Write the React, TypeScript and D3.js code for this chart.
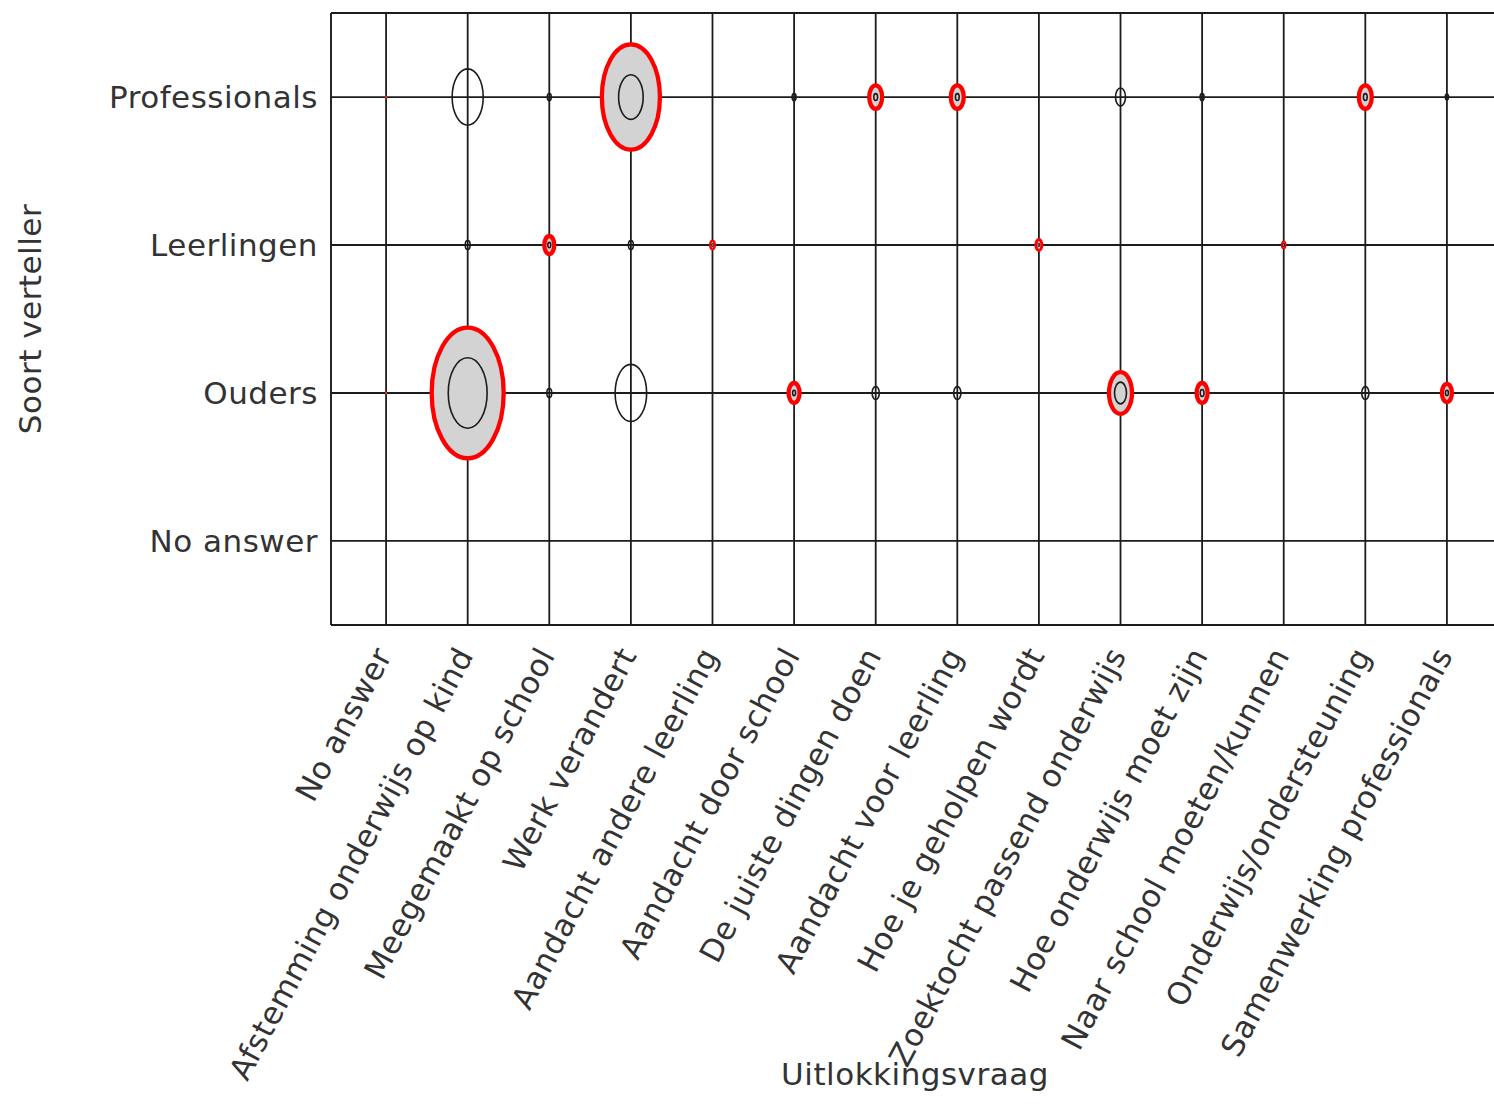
import * as d3 from "d3";
import React from "react";

// Uitlokkingsvraag (x) and Soort verteller (y)
const questions = [
  "No answer",
  "Afstemming onderwijs op kind",
  "Meegemaakt op school",
  "Werk verandert",
  "Aandacht andere leerling",
  "Aandacht door school",
  "De juiste dingen doen",
  "Aandacht voor leerling",
  "Hoe je geholpen wordt",
  "Zoektocht passend onderwijs",
  "Hoe onderwijs moet zijn",
  "Naar school moeten/kunnen",
  "Onderwijs/ondersteuning",
  "Samenwerking professionals",
];
const tellers = ["Professionals", "Leerlingen", "Ouders", "No answer"];

// observed (red, grey filled) per teller, in question order
const observedProfessionals = [0.014, 0, 0, 23.4, 0, 0, 1.17, 1.17, 0, 0, 0, 0, 1.17, 0];
const observedLeerlingen = [0, 0, 0.69, 0, 0.15, 0, 0, 0, 0.25, 0, 0, 0.1, 0, 0];
const observedOuders = [0.014, 36, 0, 0, 0, 0.84, 0, 0, 0, 3.67, 0.84, 0, 0, 0.69];
const observedNoAnswer = [0, 0, 0, 0, 0, 0, 0, 0, 0, 0, 0, 0, 0, 0];

// expected (black outline) per teller
const expectedProfessionals = [0, 6.7, 0.11, 4.2, 0, 0.11, 0.1, 0.1, 0, 0.69, 0.11, 0, 0.1, 0.07];
const expectedLeerlingen = [0, 0.17, 0.06, 0.17, 0.02, 0, 0, 0, 0.02, 0, 0, 0.02, 0, 0];
const expectedOuders = [0, 10.5, 0.17, 6.9, 0, 0.06, 0.36, 0.36, 0, 1.0, 0.1, 0, 0.36, 0.06];
const expectedNoAnswer = [0, 0, 0, 0, 0, 0, 0, 0, 0, 0, 0, 0, 0, 0];

const observedRows = [observedProfessionals, observedLeerlingen, observedOuders, observedNoAnswer];
const expectedRows = [expectedProfessionals, expectedLeerlingen, expectedOuders, expectedNoAnswer];

const W = 1494;
const H = 1104;
const plot = { left: 331, top: 13, right: 1502, bottom: 625 };
const FONT = "'DejaVu Sans', sans-serif";
const TEXT = "#333";
const LINE = "#1c1c1c";
const FS = 31;
const LS = 0.5;

export default function App() {
  const x = d3.scalePoint<string>().domain(questions).range([plot.left, plot.right]).padding(0.675);
  const y = d3.scalePoint<string>().domain(tellers).range([plot.top, plot.bottom]).padding(0.568);
  const aspect = y.step() / x.step();
  const r = d3.scaleSqrt().domain([0, 36]).range([0, 36]);

  const cells = tellers.flatMap((t, ti) =>
    questions.map((q, qi) => ({
      t,
      q,
      obs: observedRows[ti][qi],
      exp: expectedRows[ti][qi],
    }))
  );

  return (
    <svg
      width={W}
      height={H}
      style={{ position: "absolute", left: 0, top: 0, background: "#fff" }}
      fontFamily={FONT}
    >
      {/* frame */}
      <line x1={plot.left} x2={W} y1={plot.top} y2={plot.top} stroke={LINE} strokeWidth={1.9} />
      <line x1={plot.left} x2={W} y1={plot.bottom} y2={plot.bottom} stroke={LINE} strokeWidth={1.9} />
      <line x1={plot.left} x2={plot.left} y1={plot.top} y2={plot.bottom} stroke={LINE} strokeWidth={1.9} />

      {/* grid */}
      {tellers.map((t) => (
        <line key={t} x1={plot.left} x2={W} y1={y(t)} y2={y(t)} stroke={LINE} strokeWidth={1.8} />
      ))}
      {questions.map((q) => (
        <line key={q} x1={x(q)} x2={x(q)} y1={plot.top} y2={plot.bottom} stroke={LINE} strokeWidth={1.8} />
      ))}

      {/* observed */}
      {cells
        .filter((c) => c.obs > 0)
        .map((c) => {
          const rx = r(c.obs);
          return (
            <ellipse
              key={"o" + c.t + c.q}
              cx={x(c.q)}
              cy={y(c.t)}
              rx={rx}
              ry={rx * aspect}
              fill="#d3d3d3"
              stroke="#ff0000"
              strokeWidth={Math.min(4.3, rx)}
            />
          );
        })}

      {/* expected */}
      {cells
        .filter((c) => c.exp > 0)
        .map((c) => {
          const rx = r(c.exp);
          return (
            <ellipse
              key={"e" + c.t + c.q}
              cx={x(c.q)}
              cy={y(c.t)}
              rx={rx}
              ry={rx * aspect}
              fill="none"
              stroke={LINE}
              strokeWidth={Math.min(1.6, rx * 1.2)}
            />
          );
        })}

      {/* y labels */}
      {tellers.map((t) => (
        <text
          key={t}
          x={plot.left - 13}
          y={y(t)}
          dy="0.35em"
          textAnchor="end"
          fontSize={FS}
          letterSpacing={LS}
          fill={TEXT}
        >
          {t}
        </text>
      ))}

      {/* x labels */}
      {questions.map((q) => (
        <text
          key={q}
          transform={`translate(${(x(q) ?? 0) - 3},${plot.bottom + 25}) rotate(-62)`}
          dy="0.35em"
          textAnchor="end"
          fontSize={FS}
          letterSpacing={LS}
          fill={TEXT}
        >
          {q}
        </text>
      ))}

      {/* axis titles */}
      <text
        transform={`translate(41,${(plot.top + plot.bottom) / 2}) rotate(-90)`}
        textAnchor="middle"
        fontSize={FS}
        letterSpacing={LS}
        fill={TEXT}
      >
        Soort verteller
      </text>
      <text x={915} y={1085} textAnchor="middle" fontSize={FS} letterSpacing={LS} fill={TEXT}>
        Uitlokkingsvraag
      </text>
    </svg>
  );
}
